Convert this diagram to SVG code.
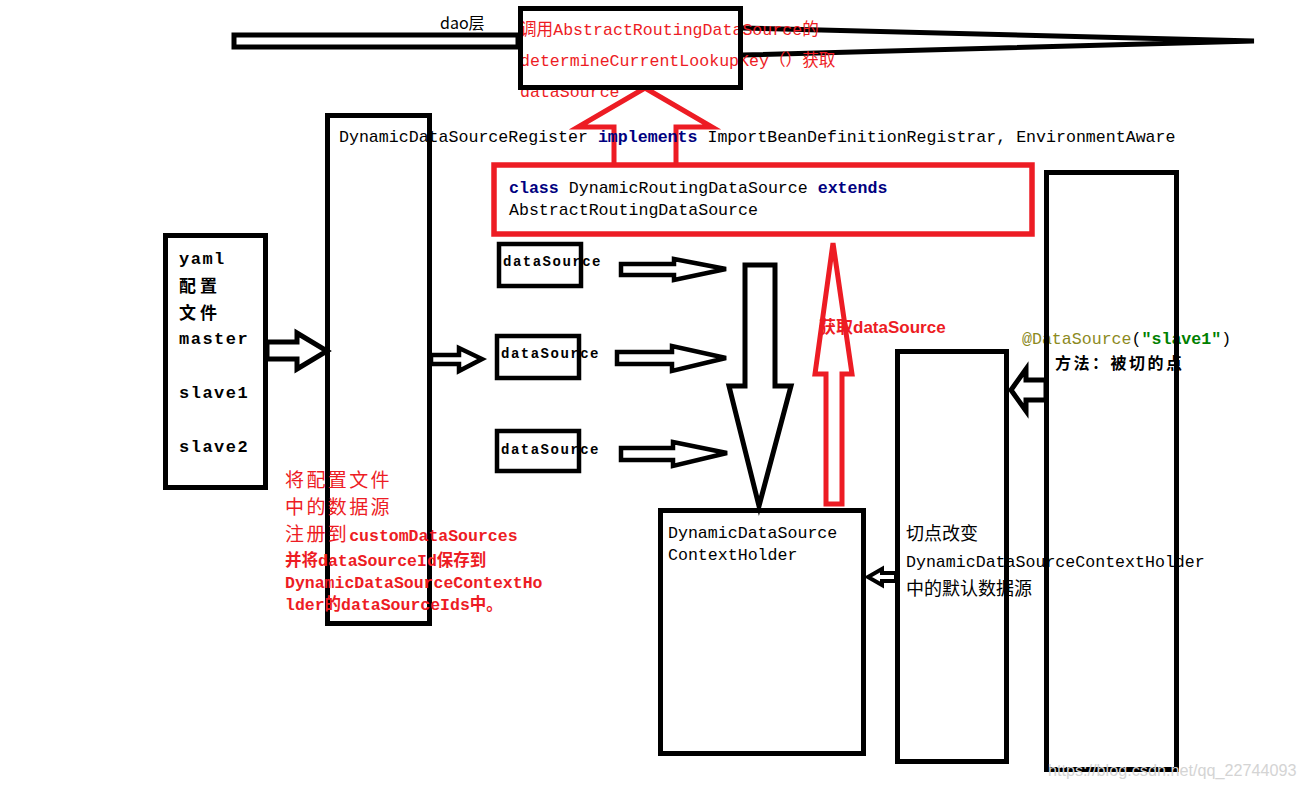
<svg xmlns="http://www.w3.org/2000/svg" width="1306" height="786" viewBox="0 0 1306 786">
<style>
.bx{fill:none;stroke:#000;stroke-width:5}
.rbx{fill:none;stroke:#ed1c24;stroke-width:5.5}
.ar{fill:#fff;stroke:#000;stroke-width:5;stroke-linejoin:miter}
.rar{fill:none;stroke:#ed1c24;stroke-width:5;stroke-linejoin:miter}
.mono{font-family:"Liberation Mono","Noto Sans CJK SC",monospace;font-size:16.6px;fill:#000}
.rmono{font-family:"Liberation Mono","Noto Sans CJK SC",monospace;font-size:16.6px;fill:#ed1c24}
.kw{font-weight:bold;fill:#000080}
.ds{font-family:"Liberation Mono","Noto Sans CJK SC",monospace;font-size:14px;font-weight:bold;letter-spacing:1.5px;fill:#000}
.yml{font-family:"Liberation Mono","Noto Sans CJK SC",monospace;font-size:17px;font-weight:bold;letter-spacing:1.5px;fill:#000}
.cjk{font-family:"Noto Sans CJK SC",sans-serif;fill:#000}
.note{font-family:"Liberation Mono","Noto Sans CJK SC",monospace;font-size:16.5px;font-weight:bold;fill:#ed1c24}
.notecjk{font-family:"Noto Sans CJK SC",sans-serif;font-size:19px;letter-spacing:2.4px;fill:#ed1c24}
</style>
<rect width="1306" height="786" fill="#fff"/>

<g id="connectors">
  <polyline class="ar" points="742,28 1254,41 742,55" style="fill:none"/>
  <polyline class="rar" points="614,163 614,127 578,127 645,88 712,127 676,127 676,163"/>
  <polygon class="ar" points="267,342 297,342 297,333 327,351 297,369 297,359 267,359"/>
  <polygon class="ar" style="stroke-width:4.5" points="431,355 459,355 459,348 482,359 459,371 459,364 431,364"/>
  <polygon class="ar" style="stroke-width:4.5" points="621,264 674,264 674,259 726,269 674,280 674,275 621,275"/>
  <polygon class="ar" style="stroke-width:4.5" points="617,352 672,352 672,346 726,358 672,371 672,364 617,364"/>
  <polygon class="ar" style="stroke-width:4.5" points="621,448 673,448 673,442 727,453 673,466 673,460 621,460"/>
  <polygon class="ar" points="745,265 775,265 775,386 791,386 759,506 729,386 745,386"/>
  <polygon class="rar" points="826,504 842,504 842,374 852,374 833,243 815,374 826,374"/>
  <polygon class="ar" points="1046,380 1026,380 1026,369 1011,390 1026,411 1026,400 1046,400"/>
  <polygon class="ar" style="stroke-width:4" points="896,573 882,573 882,569 868,577 882,585 882,581 896,581"/>
</g>

<g id="dao">
  <text x="440" y="29" class="cjk" font-size="16">dao层</text>
  <rect class="bx" x="234" y="35" width="284" height="12"/>
</g>

<g id="routing-call">
  <text class="rmono" x="520" y="35">调用AbstractRoutingDataSource的</text>
  <text class="rmono" x="520" y="66">determineCurrentLookupKey（）获取</text>
  <text class="rmono" x="520" y="97">dataSource</text>
  <rect class="bx" x="520.5" y="8.5" width="220" height="79"/>
</g>

<g id="register">
  <text class="mono" x="339" y="142">DynamicDataSourceRegister <tspan class="kw">implements</tspan> ImportBeanDefinitionRegistrar, EnvironmentAware</text>
  <rect class="bx" x="327.5" y="115.5" width="102" height="508"/>
</g>

<g id="routing-class">
  <text class="mono" x="509" y="193"><tspan class="kw">class</tspan> DynamicRoutingDataSource <tspan class="kw">extends</tspan></text>
  <text class="mono" x="509" y="215">AbstractRoutingDataSource</text>
  <rect class="rbx" x="494" y="165" width="538" height="69"/>
</g>

<g id="yaml">
  <text class="yml" x="179" y="264">yaml</text>
  <text class="yml" x="179" y="292" style="letter-spacing:4px">配置</text>
  <text class="yml" x="179" y="319" style="letter-spacing:4px">文件</text>
  <text class="yml" x="179" y="344">master</text>
  <text class="yml" x="179" y="398">slave1</text>
  <text class="yml" x="179" y="452">slave2</text>
  <rect class="bx" x="165.5" y="235.5" width="100" height="252"/>
</g>

<g id="ds1">
  <text class="ds" x="503" y="266">dataSource</text>
  <rect class="bx" style="stroke-width:4.5" x="499" y="244" width="82" height="42"/>
</g>
<g id="ds2">
  <text class="ds" x="501" y="358">dataSource</text>
  <rect class="bx" style="stroke-width:4.5" x="497" y="336" width="82" height="42"/>
</g>
<g id="ds3">
  <text class="ds" x="501" y="454">dataSource</text>
  <rect class="bx" style="stroke-width:4.5" x="497" y="431" width="82" height="40"/>
</g>

<g id="get-label">
  <text x="819" y="333" font-family="'Liberation Sans','Noto Sans CJK SC',sans-serif" font-size="17" font-weight="bold" fill="#ed1c24">获取dataSource</text>
</g>

<g id="note">
  <text class="notecjk" x="285" y="487">将配置文件</text>
  <text class="notecjk" x="285" y="514">中的数据源</text>
  <text x="285" y="541"><tspan class="notecjk">注册到</tspan><tspan class="note">customDataSources</tspan></text>
  <text class="note" x="285" y="566">并将dataSourceId保存到</text>
  <text class="note" x="285" y="588">DynamicDataSourceContextHo</text>
  <text class="note" x="285" y="610">lder的dataSourceIds中。</text>
</g>

<g id="holder">
  <text class="mono" x="668" y="538">DynamicDataSource</text>
  <text class="mono" x="668" y="560">ContextHolder</text>
  <rect class="bx" x="660.5" y="510.5" width="203" height="243"/>
</g>

<g id="aspect">
  <text class="cjk" x="906" y="540" font-size="18">切点改变</text>
  <text class="mono" x="906" y="567">DynamicDataSourceContextHolder</text>
  <text class="cjk" x="906" y="595" font-size="18">中的默认数据源</text>
  <rect class="bx" x="897.5" y="351.5" width="109" height="410"/>
</g>

<g id="method">
  <text class="mono" x="1022" y="344"><tspan fill="#8c8a1e">@DataSource</tspan>(<tspan fill="#008000" font-weight="bold">"slave1"</tspan>)</text>
  <text class="cjk" x="1055" y="369" font-size="16" font-weight="bold" style="letter-spacing:2.5px">方法：被切的点</text>
  <rect class="bx" x="1046.5" y="172.5" width="130" height="597"/>
</g>

<text x="1048" y="776" font-family="'Liberation Sans',sans-serif" font-size="16.2" fill="#d4d4d4">https://blog.csdn.net/qq_22744093</text>
</svg>
